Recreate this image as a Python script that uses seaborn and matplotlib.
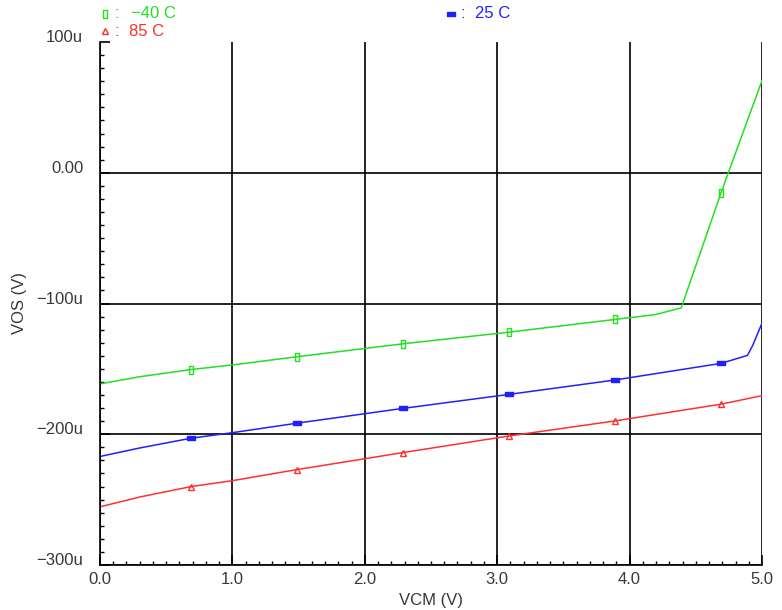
import matplotlib
matplotlib.use("Agg")
import matplotlib.pyplot as plt
import matplotlib.transforms as mtransforms
from matplotlib.lines import Line2D
from matplotlib.ticker import MultipleLocator
import seaborn as sns
import pandas as pd

# ---- data (VOS in microvolts) ----
vcm_m40 = [0.0, 0.3, 0.69, 1.0, 1.49, 2.29, 3.09, 3.89, 4.2, 4.39, 4.61, 4.69, 5.0]
vos_m40 = [-161.5, -156, -150.5, -147, -140.7, -130.8, -121.9, -112.2, -108.4, -103.3, -39, -15.5, 70.5]

vcm_25 = [0.0, 0.3, 0.69, 1.0, 1.49, 2.29, 3.09, 3.89, 4.69, 4.89, 4.93, 5.0]
vos_25 = [-217, -210.5, -203, -198.8, -191.5, -180.2, -169.5, -158.5, -145.8, -139.7, -132, -115]

vcm_85 = [0.0, 0.3, 0.69, 1.0, 1.49, 2.29, 3.09, 3.89, 4.69, 5.0]
vos_85 = [-255.5, -248, -240, -235.5, -227, -214, -201.3, -189.8, -177, -170.5]

marker_x = [0.69, 1.49, 2.29, 3.09, 3.89, 4.69]

series_names = ["\u221240 C", "25 C", "85 C"]
x_ticks = [0, 1, 2, 3, 4, 5]
x_ticklabels = ["0.0", "1.0", "2.0", "3.0", "4.0", "5.0"]
y_ticks = [-300, -200, -100, 0, 100]
y_ticklabels = ["\u2212300u", "\u2212200u", "\u2212100u", "0.00", "100u"]

# ---- style ----
sns.set_style("white")
plt.rcParams["font.family"] = ["Liberation Sans", "DejaVu Sans"]

c_green = "#22e022"
c_blue = "#2020ff"
c_red = "#ff3030"
txt = "#383838"

fig = plt.figure(figsize=(7.82, 6.10), dpi=100)
ax = fig.add_axes([100 / 782, 45 / 610, 662 / 782, 523 / 610])

m_green = [(-0.45, -1), (0.45, -1), (0.45, 1), (-0.45, 1), (-0.45, -1)]
m_blue = [(-1, -0.4), (1, -0.4), (1, 0.4), (-1, 0.4), (-1, -0.4)]

specs = [
    (vcm_m40, vos_m40, c_green, m_green, "none", 6),
    (vcm_25, vos_25, c_blue, m_blue, c_blue, 6),
    (vcm_85, vos_85, c_red, "^", "none", 5),
]
for (xs, ys, col, mk, mfc, ms), name in zip(specs, series_names):
    df = pd.DataFrame({"VCM": xs, "VOS": ys})
    idx = [i for i, v in enumerate(xs) if any(abs(v - m) < 1e-9 for m in marker_x)]
    sns.lineplot(data=df, x="VCM", y="VOS", ax=ax, color=col, lw=1.1,
                 marker=mk, markevery=idx, markersize=ms,
                 markerfacecolor=mfc, markeredgecolor=col, markeredgewidth=1.0,
                 errorbar=None, legend=False, label=name)

ax.set_xlim(0, 5)
ax.set_ylim(-300, 100)
ax.set_xticks(x_ticks)
ax.set_yticks(y_ticks)
ax.xaxis.set_minor_locator(MultipleLocator(0.1))
ax.yaxis.set_minor_locator(MultipleLocator(10))

offset_x = mtransforms.ScaledTranslation(6 / 100, 0, fig.dpi_scale_trans)
ax.set_xticklabels(x_ticklabels, fontsize=12, color=txt)
for lab in ax.get_xticklabels():
    lab.set_transform(lab.get_transform() + offset_x)
ax.set_yticklabels(y_ticklabels, fontsize=12, color=txt, va="baseline")

ax.tick_params(axis="both", which="both", bottom=True, left=True,
               top=False, right=False)
ax.tick_params(axis="both", which="major", direction="in", length=7, width=1.2,
               color="black")
ax.tick_params(axis="both", which="minor", direction="in", length=3, width=1,
               color="black")
ax.tick_params(axis="x", which="major", pad=5)
ax.tick_params(axis="y", which="major", pad=12)

ax.grid(True, which="major", color="black", lw=1.2)
ax.yaxis.get_major_ticks()[-1].gridline.set_visible(False)

for s in ["top", "right"]:
    ax.spines[s].set_visible(False)
for s in ["left", "bottom"]:
    ax.spines[s].set_color("black")
    ax.spines[s].set_linewidth(1.2)

ax.set_xlabel("VCM (V)", fontsize=12, color=txt, va="top")
ax.xaxis.set_label_coords(0.5, (565 - 593) / 523)
ax.set_ylabel("VOS (V)", fontsize=12, color=txt)
ax.yaxis.set_label_coords((27 - 100) / 662, 0.5)

# ---- legend at top ----
def fx(px):
    return px / 782

def fy(py):
    return 1 - py / 610

legend_items = [
    (105, 14, m_green, "none", c_green, 6, series_names[0], 131),
    (451, 14, m_blue, c_blue, c_blue, 6, series_names[1], 475),
    (105, 31, "^", "none", c_red, 5, series_names[2], 129),
]
for mx, my, mk, mfc, col, ms, name, tx in legend_items:
    fig.add_artist(Line2D([fx(mx)], [fy(my)], transform=fig.transFigure,
                          marker=mk, markersize=ms, markerfacecolor=mfc,
                          markeredgecolor=col, markeredgewidth=1.0, lw=0))
    fig.text(fx(mx + 9), fy(my), ":", color=col, fontsize=12, va="center", ha="left")
    fig.text(fx(tx), fy(my), name, color=col, fontsize=12, va="center", ha="left")

fig.savefig("out.png", dpi=100)
